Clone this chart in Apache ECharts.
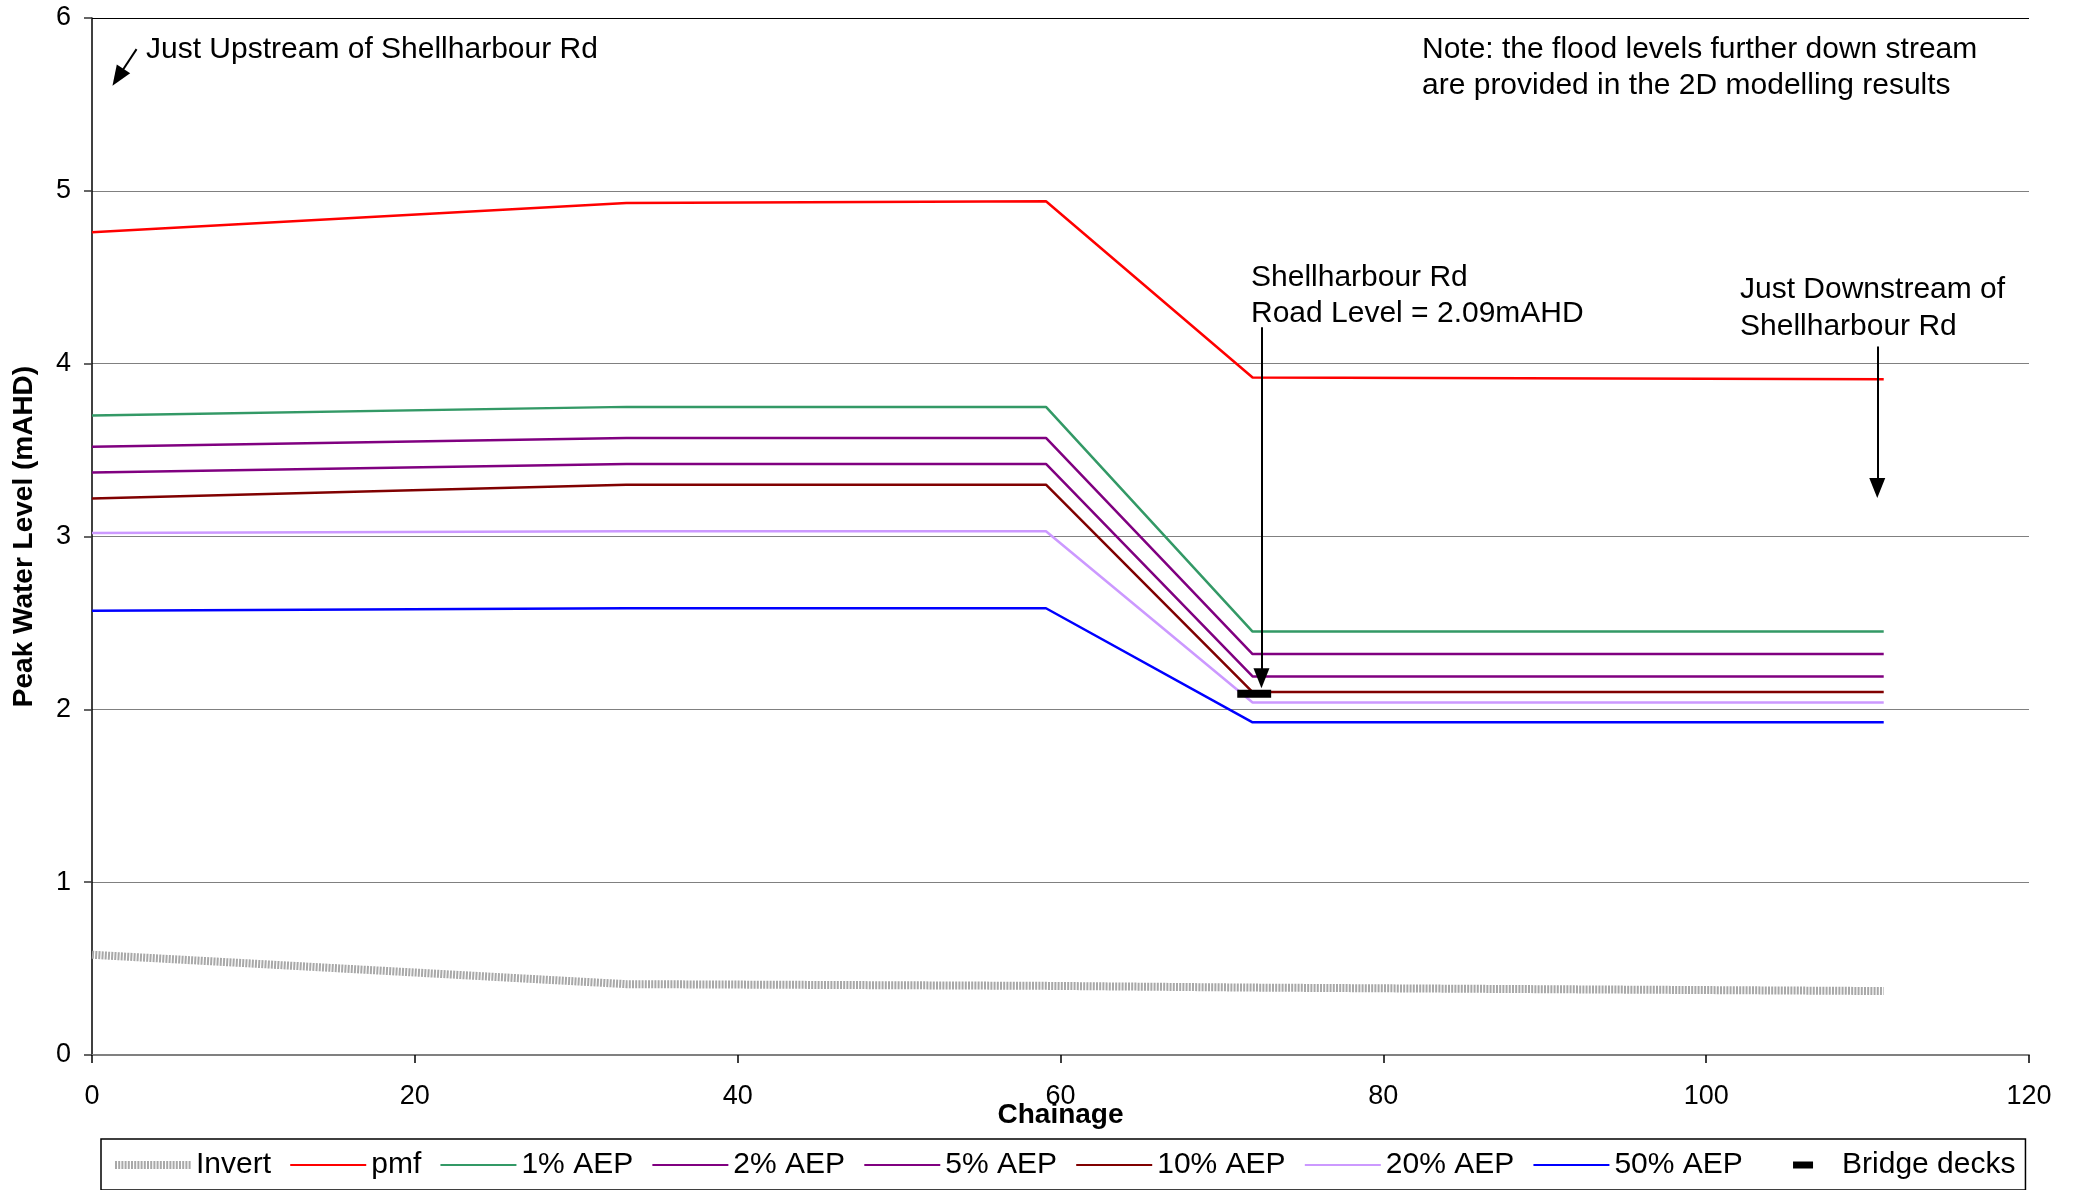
<!DOCTYPE html>
<html>
<head>
<meta charset="utf-8">
<script src="https://cdn.jsdelivr.net/npm/echarts@6/dist/echarts.min.js"></script>
<style>html,body{margin:0;padding:0;background:#fff;}#c{width:2078px;height:1190px;}</style>
</head>
<body>
<div id="c"></div>
<script>
// Chainage of each cross-section
var chainage = [0, 33.1, 59.1, 71.9, 111.0];
// Peak water levels (mAHD)
var invert = [0.58, 0.41, 0.40, 0.39, 0.37];
var pmf    = [4.76, 4.93, 4.94, 3.92, 3.91];
var aep1   = [3.70, 3.75, 3.75, 2.45, 2.45];
var aep2   = [3.52, 3.57, 3.57, 2.32, 2.32];
var aep5   = [3.37, 3.42, 3.42, 2.19, 2.19];
var aep10  = [3.22, 3.30, 3.30, 2.10, 2.10];
var aep20  = [3.02, 3.03, 3.03, 2.04, 2.04];
var aep50  = [2.57, 2.585, 2.585, 1.925, 1.925];
// Bridge deck (Shellharbour Rd)
var bridgeX = [70.95, 73.05];
var bridgeY = [2.09, 2.09];
var xTicks = [0, 20, 40, 60, 80, 100, 120];
var yTicks = [0, 1, 2, 3, 4, 5, 6];
// Annotation arrows [x1, y1, x2, y2] in data units
var arrowRoad = [72.45, 4.21, 72.45, 2.18];
var arrowDown = [110.6, 4.10, 110.6, 3.28];
var arrowUp   = [2.76, 5.82, 1.61, 5.657];

function pairs(xs, ys) { return xs.map(function (x, i) { return [x, ys[i]]; }); }

var FONT = '"Liberation Sans", Arial, sans-serif';
var chart = echarts.init(document.getElementById('c'));

function lineSeries(name, ys, color, width, type) {
  return {
    name: name, type: 'line', data: pairs(chainage, ys), symbol: 'none',
    lineStyle: { color: color, width: width || 2.5, type: type || 'solid' },
    itemStyle: { color: color }, silent: true, z: 3
  };
}
function arrow(a) { return [{ coord: [a[0], a[1]] }, { coord: [a[2], a[3]] }]; }

var option = {
  animation: false,
  backgroundColor: '#fff',
  grid: { left: 92, right: 49, top: 18, bottom: 135 },
  xAxis: {
    type: 'value', min: 0, max: 120, interval: 20,
    name: 'Chainage', nameLocation: 'middle', nameGap: 46, nameMoveOverlap: false,
    nameTextStyle: { fontFamily: FONT, fontSize: 28, fontWeight: 'bold', color: '#000' },
    axisLine: { show: true, lineStyle: { color: '#808080', width: 2 } },
    axisTick: { show: true, length: 8, inside: false, lineStyle: { color: '#000', width: 1.5 } },
    axisLabel: { fontFamily: FONT, fontSize: 27, color: '#000', margin: 28,
      formatter: function (v) { return xTicks.indexOf(v) >= 0 ? String(v) : ''; } },
    splitLine: { show: false }
  },
  yAxis: {
    type: 'value', min: 0, max: 6, interval: 1,
    name: 'Peak Water Level (mAHD)', nameLocation: 'middle', nameGap: 54, nameRotate: 90,
    nameTextStyle: { fontFamily: FONT, fontSize: 28, fontWeight: 'bold', color: '#000' },
    axisLine: { show: true, lineStyle: { color: '#000', width: 1.5 } },
    axisTick: { show: true, length: 8, inside: false, lineStyle: { color: '#333', width: 1.5 } },
    axisLabel: { fontFamily: FONT, fontSize: 27, color: '#000', margin: 21,
      formatter: function (v) { return yTicks.indexOf(v) >= 0 ? String(v) : ''; } },
    splitLine: { show: true, lineStyle: { color: ['#808080', '#808080', '#808080', '#808080', '#808080', '#808080', '#000'], width: 1.2 } }
  },
  legend: {
    left: 101, top: 1139, orient: 'horizontal',
    padding: [11, 10, 10, 10], itemGap: 18.2, itemWidth: 76, itemHeight: 14,
    borderColor: '#000', borderWidth: 1.5,
    itemStyle: { opacity: 0 },
    textStyle: { fontFamily: FONT, fontSize: 30, color: '#000', padding: [0, 0, 0, 0] },
    data: [
      { name: 'Invert', lineStyle: { width: 8 } },
      'pmf', '1% AEP', '2% AEP', '5% AEP', '10% AEP', '20% AEP', '50% AEP',
      { name: 'Bridge decks', icon: 'path://M0,0M76,14M32,3.5H52V10.5H32Z', itemStyle: { opacity: 1, color: '#000' } }
    ]
  },
  graphic: [
    { type: 'text', left: 146, top: 35, style: { text: 'Just Upstream of Shellharbour Rd', font: '30px ' + FONT, fill: '#000' } },
    { type: 'text', left: 1422, top: 32, style: { text: 'Note: the flood levels further down stream\nare provided in the 2D modelling results', font: '30px ' + FONT, fill: '#000', lineHeight: 36 } },
    { type: 'text', left: 1251, top: 259, style: { text: 'Shellharbour Rd\nRoad Level = 2.09mAHD', font: '30px ' + FONT, fill: '#000', lineHeight: 36.5 } },
    { type: 'text', left: 1740, top: 271, style: { text: 'Just Downstream of\nShellharbour Rd', font: '30px ' + FONT, fill: '#000', lineHeight: 37 } }
  ],
  series: [
    lineSeries('Invert', invert, '#a8a8a8', 8, [2, 1.2]),
    lineSeries('pmf', pmf, '#ff0000'),
    lineSeries('1% AEP', aep1, '#339966'),
    lineSeries('2% AEP', aep2, '#800080'),
    lineSeries('5% AEP', aep5, '#800080'),
    lineSeries('10% AEP', aep10, '#800000'),
    lineSeries('20% AEP', aep20, '#cc99ff'),
    lineSeries('50% AEP', aep50, '#0000ff'),
    {
      name: 'Bridge decks', type: 'line', data: pairs(bridgeX, bridgeY), symbol: 'none',
      lineStyle: { color: '#000', width: 8, cap: 'butt' }, itemStyle: { color: '#000' }, z: 5, silent: true,
      markLine: {
        silent: true, symbol: ['none', 'triangle'], symbolSize: [16, 20],
        label: { show: false },
        lineStyle: { color: '#000', width: 2, type: 'solid' },
        itemStyle: { color: '#000' },
        emphasis: { disabled: true },
        data: [arrow(arrowRoad), arrow(arrowDown), arrow(arrowUp)]
      }
    }
  ]
};
chart.setOption(option);
</script>
</body>
</html>
